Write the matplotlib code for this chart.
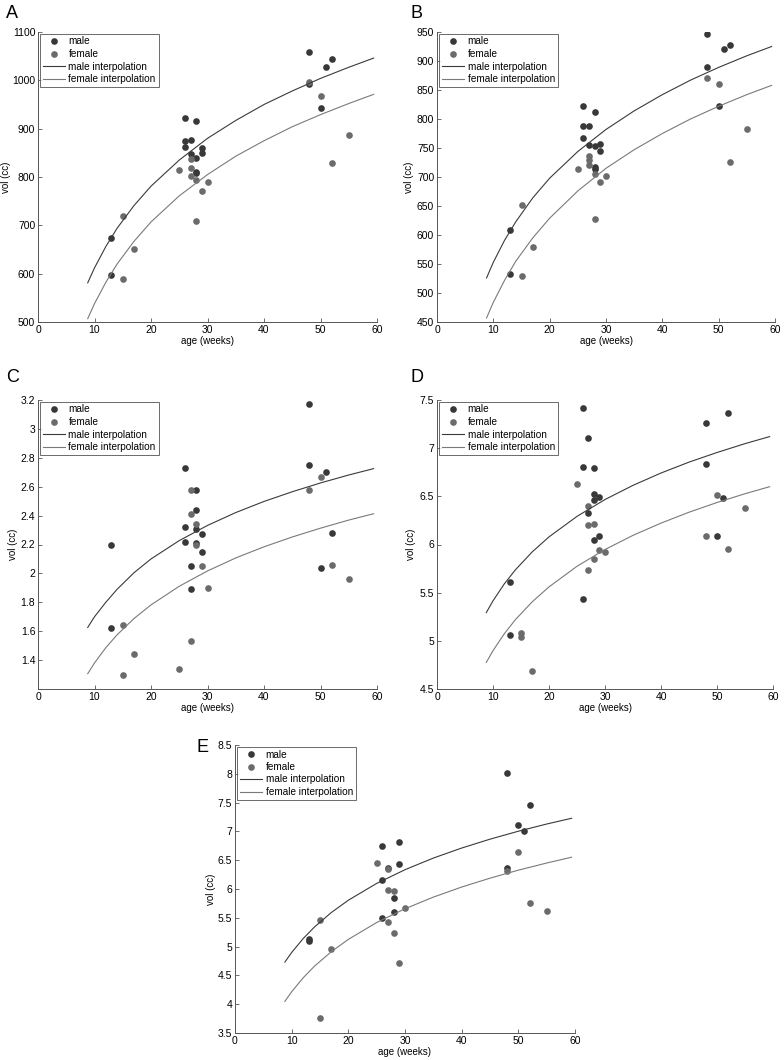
import numpy as np
import matplotlib
matplotlib.use("Agg")
import matplotlib.pyplot as plt
from matplotlib.ticker import FormatStrFormatter

plt.rcParams['font.family'] = ['Liberation Sans', 'DejaVu Sans']

# ******* data
# Panel A
a_male_age = [13, 13, 26, 26, 26, 27, 27, 28, 28, 28, 28, 29, 29, 48, 48, 50, 51, 52]
a_male_vol = [674, 597, 922, 875, 863, 877, 847, 915, 840, 810, 808, 861, 849, 1059, 993, 943, 1027, 1045]
a_fem_age = [15, 15, 17, 25, 27, 27, 27, 28, 28, 29, 30, 48, 50, 52, 55]
a_fem_vol = [720, 589, 651, 815, 837, 819, 802, 794, 709, 771, 790, 996, 967, 828, 886]

# Panel B
b_male_age = [13, 13, 26, 26, 26, 27, 27, 28, 28, 28, 28, 29, 29, 48, 48, 50, 51, 52]
b_male_vol = [609, 533, 822, 788, 768, 788, 756, 812, 753, 717, 713, 757, 745, 947, 889, 823, 920, 928]
b_fem_age = [15, 15, 17, 25, 27, 27, 27, 28, 28, 29, 30, 48, 50, 52, 55]
b_fem_vol = [651, 530, 579, 713, 737, 730, 720, 705, 628, 691, 702, 870, 861, 726, 782]

# Panel C
c_male_age = [13, 13, 26, 26, 26, 27, 27, 28, 28, 28, 28, 29, 29, 48, 48, 50, 51, 52]
c_male_vol = [2.20, 1.62, 2.73, 2.32, 2.22, 2.05, 1.89, 2.58, 2.44, 2.31, 2.21, 2.27, 2.15, 3.17, 2.75, 2.04, 2.70, 2.28]
c_fem_age = [15, 15, 17, 25, 27, 27, 27, 28, 28, 29, 30, 48, 50, 52, 55]
c_fem_vol = [1.64, 1.30, 1.44, 1.34, 2.58, 2.41, 1.53, 2.34, 2.20, 2.05, 1.90, 2.58, 2.67, 2.06, 1.96]

# Panel D
d_male_age = [13, 13, 26, 26, 26, 27, 27, 28, 28, 28, 28, 29, 29, 48, 48, 50, 51, 52]
d_male_vol = [5.61, 5.06, 7.42, 6.80, 5.43, 7.11, 6.33, 6.79, 6.52, 6.46, 6.05, 6.49, 6.09, 7.26, 6.84, 6.09, 6.48, 7.37]
d_fem_age = [15, 15, 17, 25, 27, 27, 27, 28, 28, 29, 30, 48, 50, 52, 55]
d_fem_vol = [5.08, 5.04, 4.69, 6.63, 6.40, 6.20, 5.74, 6.21, 5.85, 5.94, 5.92, 6.09, 6.51, 5.95, 6.38]

# Panel E
e_male_age = [13, 13, 26, 26, 26, 27, 28, 28, 29, 29, 48, 48, 50, 51, 52]
e_male_vol = [5.14, 5.10, 6.75, 6.15, 5.49, 6.37, 5.85, 5.60, 6.81, 6.44, 8.01, 6.37, 7.11, 7.01, 7.45]
e_fem_age = [15, 15, 17, 25, 27, 27, 27, 28, 28, 29, 30, 48, 50, 52, 55]
e_fem_vol = [5.47, 3.76, 4.95, 6.45, 6.34, 5.98, 5.43, 5.96, 5.23, 4.72, 5.67, 6.31, 6.65, 5.75, 5.62]

# interpolation curves, values
curve_age = [8.8, 10, 12, 14, 17, 20, 25, 30, 35, 40, 45, 50, 55, 59.4]
a_male_fit = [581, 612, 656, 694, 741, 781, 835, 880, 917, 950, 978, 1004, 1027, 1046]
a_fem_fit = [507, 538, 582, 620, 667, 707, 761, 805, 843, 875, 904, 929, 952, 971]
b_male_fit = [526, 553, 591, 623, 664, 698, 744, 782, 814, 842, 867, 889, 909, 925]
b_fem_fit = [457, 484, 522, 555, 595, 629, 676, 715, 747, 775, 800, 822, 842, 858]
c_male_fit = [1.626, 1.70, 1.80, 1.89, 2.005, 2.10, 2.227, 2.332, 2.421, 2.498, 2.565, 2.626, 2.681, 2.725]
c_fem_fit = [1.306, 1.38, 1.486, 1.575, 1.688, 1.782, 1.911, 2.017, 2.107, 2.184, 2.252, 2.313, 2.369, 2.413]
d_male_fit = [5.293, 5.415, 5.59, 5.737, 5.923, 6.079, 6.292, 6.467, 6.614, 6.742, 6.855, 6.955, 7.047, 7.12]
d_fem_fit = [4.776, 4.898, 5.072, 5.22, 5.405, 5.56, 5.774, 5.948, 6.095, 6.222, 6.335, 6.436, 6.527, 6.60]
e_male_fit = [4.731, 4.898, 5.136, 5.338, 5.592, 5.805, 6.097, 6.335, 6.537, 6.711, 6.865, 7.003, 7.128, 7.228]
e_fem_fit = [4.049, 4.216, 4.455, 4.658, 4.912, 5.125, 5.418, 5.657, 5.859, 6.034, 6.188, 6.327, 6.451, 6.552]

# y axis settings per panel
a_yticks = np.arange(500, 1101, 100)
b_yticks = np.arange(450, 951, 50)
c_yticks = np.arange(1.4, 3.21, 0.2)
d_yticks = np.arange(4.5, 7.51, 0.5)
e_yticks = np.arange(3.5, 8.51, 0.5)

male_col = "#383838"
fem_col = "#6b6b6b"
male_line = "#3a3a3a"
fem_line = "#7a7a7a"
axis_col = "#555555"

fig = plt.figure(figsize=(7.84, 10.6), dpi=100)

# axes rectangles in figure fractions (left, bottom, width, height)
W, H = 784.0, 1060.0
rects = {
    "A": (38 / W, 1 - 322 / H, 339 / W, 290 / H),
    "B": (437 / W, 1 - 322 / H, 338 / W, 290 / H),
    "C": (38 / W, 1 - 689 / H, 339 / W, 289 / H),
    "D": (437 / W, 1 - 689 / H, 336 / W, 289 / H),
    "E": (235 / W, 1 - 1033 / H, 340 / W, 288 / H),
}
letter_pos = {"A": (6, 13), "B": (410, 13), "C": (6, 378), "D": (410, 378), "E": (196, 747)}
# right edge of the rotated y label, axes fraction
ylabel_x = {"A": -0.08, "B": -0.068, "C": -0.059, "D": -0.0625, "E": -0.056}

panels = [
    ("A", a_male_age, a_male_vol, a_fem_age, a_fem_vol, a_male_fit, a_fem_fit, a_yticks, (500, 1100)),
    ("B", b_male_age, b_male_vol, b_fem_age, b_fem_vol, b_male_fit, b_fem_fit, b_yticks, (450, 950)),
    ("C", c_male_age, c_male_vol, c_fem_age, c_fem_vol, c_male_fit, c_fem_fit, c_yticks, (1.2, 3.2)),
    ("D", d_male_age, d_male_vol, d_fem_age, d_fem_vol, d_male_fit, d_fem_fit, d_yticks, (4.5, 7.5)),
    ("E", e_male_age, e_male_vol, e_fem_age, e_fem_vol, e_male_fit, e_fem_fit, e_yticks, (3.5, 8.5)),
]

for name, m_age, m_vol, f_age, f_vol, m_fit, f_fit, yt, ylim in panels:
    ax = fig.add_axes(rects[name])
    ax.plot(m_age, m_vol, "o", color=male_col, markersize=4.8, markeredgewidth=0, label="male")
    ax.plot(f_age, f_vol, "o", color=fem_col, markersize=4.8, markeredgewidth=0, label="female")
    ax.plot(curve_age, m_fit, "-", color=male_line, linewidth=0.8, label="male interpolation")
    ax.plot(curve_age, f_fit, "-", color=fem_line, linewidth=0.8, label="female interpolation")
    ax.set_xlim(0, 60)
    ax.set_ylim(*ylim)
    ax.set_xticks(np.arange(0, 61, 10))
    ax.set_yticks(yt)
    ax.yaxis.set_major_formatter(FormatStrFormatter("%g"))
    ax.tick_params(direction="in", length=3, width=0.6, labelsize=7.5, colors="black", pad=2)
    ax.tick_params(color=axis_col)
    for side in ["top", "right"]:
        ax.spines[side].set_visible(False)
    for side in ["left", "bottom"]:
        ax.spines[side].set_color(axis_col)
        ax.spines[side].set_linewidth(0.7)
    ax.set_xlabel("age (weeks)", fontsize=7, labelpad=1)
    ax.set_ylabel("vol (cc)", fontsize=7)
    ax.yaxis.set_label_coords(ylabel_x[name], 0.5)
    leg = ax.legend(loc="upper left", fontsize=7.2, frameon=True, fancybox=False,
                    borderaxespad=0.15, borderpad=0.3, labelspacing=0.25,
                    handlelength=2.2, handletextpad=0.4, numpoints=1)
    leg.get_frame().set_edgecolor("#444444")
    leg.get_frame().set_linewidth(0.7)
    lx, ly = letter_pos[name]
    fig.text(lx / W, 1 - ly / H, name, fontsize=13, ha="left", va="center")

plt.savefig("out.png", dpi=100)
